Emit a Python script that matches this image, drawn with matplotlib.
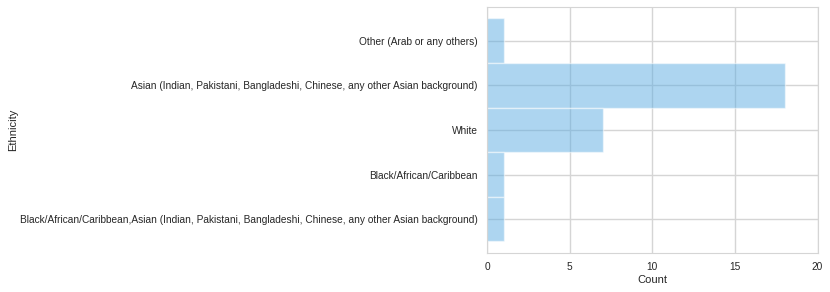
import matplotlib
matplotlib.use("Agg")
import matplotlib.pyplot as plt
import seaborn as sns

categories = [
    "Other (Arab or any others)",
    "Asian (Indian, Pakistani, Bangladeshi, Chinese, any other Asian background)",
    "White",
    "Black/African/Caribbean",
    "Black/African/Caribbean,Asian (Indian, Pakistani, Bangladeshi, Chinese, any other Asian background)",
]
counts = [1, 18, 7, 1, 1]

sns.set_style("whitegrid")
plt.rcParams['font.family'] = ['Liberation Sans', 'DejaVu Sans']

fig, ax = plt.subplots(figsize=(8.3, 2.92), dpi=100)
ax.barh(categories, counts, height=1.0, color="#5DADE2", alpha=0.5,
        edgecolor="white", linewidth=1)
ax.invert_yaxis()
ax.set_xlim(0, 20)
ax.set_xticks([0, 5, 10, 15, 20])
ax.set_xlabel("Count", fontsize=8, labelpad=2)
ax.set_ylabel("Ethnicity", fontsize=8)
ax.yaxis.set_label_coords(-1.42, 0.5)
ax.tick_params(labelsize=7.25)
ax.grid(color="#d5d5d5", linewidth=1)
for s in ax.spines.values():
    s.set_color("#d5d5d5")
ax.set_axisbelow(True)

fig.subplots_adjust(left=0.587, right=0.985, top=0.975, bottom=0.135)
fig.savefig("out.png", dpi=100)
